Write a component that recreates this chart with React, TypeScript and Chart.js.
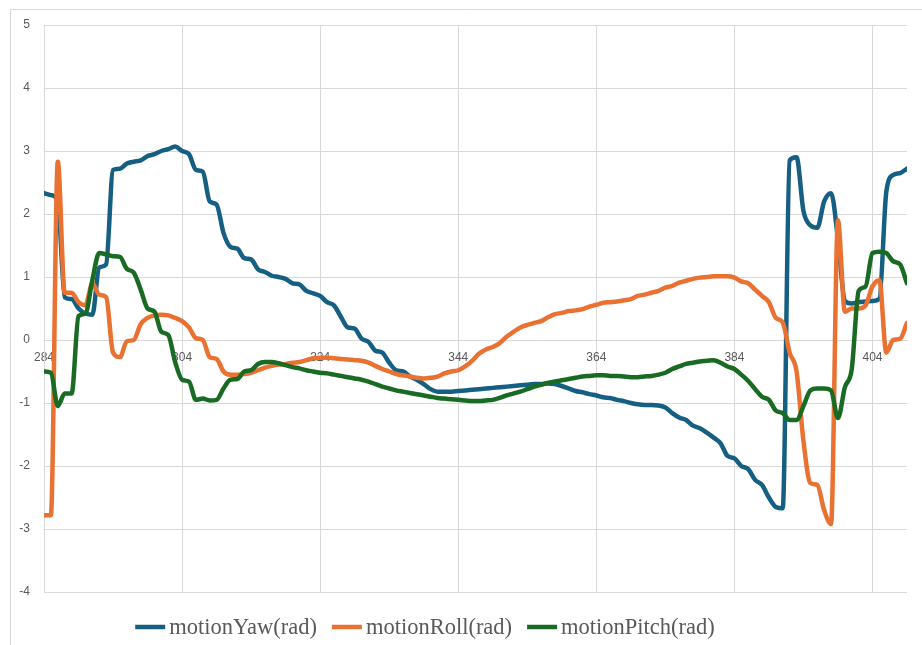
import React, { useEffect, useRef } from "react";
import { Chart, registerables } from "chart.js";

Chart.register(...registerables);

const xStart = 284;
const xEnd = 409;
const tickLabels = [284, 304, 324, 344, 364, 384, 404];
const seriesNames = ["motionYaw(rad)", "motionRoll(rad)", "motionPitch(rad)"];
const seriesColors = ["#156082", "#E97132", "#196B24"];

const motionYaw = [
  2.33, 2.3, 2.2, 0.68, 0.65, 0.5, 0.42, 0.4, 1.15, 1.2,
  2.7, 2.72, 2.8, 2.83, 2.85, 2.92, 2.95, 3.0, 3.03, 3.07,
  3.0, 2.95, 2.7, 2.67, 2.2, 2.15, 1.7, 1.48, 1.45, 1.3,
  1.28, 1.12, 1.08, 1.02, 1.0, 0.97, 0.9, 0.88, 0.78, 0.74,
  0.7, 0.6, 0.55, 0.37, 0.2, 0.18, 0.02, -0.03, -0.17, -0.2,
  -0.36, -0.48, -0.5, -0.58, -0.63, -0.7, -0.78, -0.82, -0.82, -0.82,
  -0.81, -0.8, -0.79, -0.78, -0.77, -0.76, -0.75, -0.74, -0.73, -0.72,
  -0.71, -0.7, -0.7, -0.69, -0.7, -0.73, -0.77, -0.81, -0.83, -0.86,
  -0.88, -0.91, -0.92, -0.95, -0.97, -1.0, -1.02, -1.03, -1.03, -1.04,
  -1.07, -1.16, -1.23, -1.27, -1.36, -1.4, -1.47, -1.55, -1.64, -1.84,
  -1.88, -2.0, -2.05, -2.22, -2.3, -2.5, -2.65, -2.67, 2.85, 2.9,
  2.05, 1.82, 1.78, 2.2, 2.33, 1.6, 0.62, 0.58, 0.6, 0.61,
  0.62, 0.65, 2.35, 2.62, 2.65, 2.72,
];

const motionRoll = [
  -2.78, -2.78, 2.83, 0.75, 0.75, 0.6, 0.55, 0.9, 0.72, 0.68,
  -0.2, -0.27, -0.02, 0.0, 0.25, 0.35, 0.39, 0.4, 0.39, 0.35,
  0.3, 0.2, 0.03, 0.0, -0.27, -0.3, -0.5, -0.55, -0.55, -0.54,
  -0.52, -0.48, -0.44, -0.41, -0.39, -0.38, -0.36, -0.35, -0.32, -0.29,
  -0.28, -0.28, -0.29, -0.3, -0.31, -0.32, -0.33, -0.36, -0.41, -0.46,
  -0.5, -0.54, -0.56, -0.58, -0.6, -0.61, -0.6, -0.58, -0.53, -0.5,
  -0.48, -0.42, -0.33, -0.22, -0.15, -0.11, -0.05, 0.05, 0.13, 0.2,
  0.24, 0.27, 0.3, 0.36, 0.41, 0.43, 0.46, 0.47, 0.49, 0.53,
  0.56, 0.59, 0.6, 0.61, 0.63, 0.65, 0.7, 0.72, 0.75, 0.78,
  0.83, 0.86, 0.91, 0.94, 0.97, 0.99, 1.0, 1.01, 1.01, 1.01,
  0.99, 0.93, 0.9, 0.8, 0.7, 0.6, 0.35, 0.28, -0.2, -0.5,
  -1.6, -2.27, -2.3, -2.7, -2.92, 1.9, 0.45, 0.5, 0.5, 0.55,
  0.85, 0.95, -0.2, 0.0, 0.02, 0.27,
];

const motionPitch = [
  -0.5, -0.52, -1.05, -0.85, -0.85, 0.38, 0.42, 0.95, 1.38, 1.36,
  1.33, 1.32, 1.13, 1.07, 0.8, 0.5, 0.45, 0.13, 0.08, -0.35,
  -0.63, -0.66, -0.95, -0.93, -0.96, -0.95, -0.77, -0.63, -0.62, -0.5,
  -0.48, -0.38, -0.35, -0.35, -0.37, -0.4, -0.43, -0.45, -0.48, -0.5,
  -0.52, -0.53, -0.55, -0.57, -0.59, -0.61, -0.63, -0.66, -0.7, -0.74,
  -0.77, -0.8, -0.82, -0.84, -0.86, -0.88, -0.9, -0.92, -0.93, -0.94,
  -0.95, -0.96, -0.97, -0.97, -0.96, -0.95, -0.92, -0.88, -0.85, -0.82,
  -0.78, -0.74, -0.71, -0.68, -0.66, -0.64, -0.62, -0.6, -0.58, -0.57,
  -0.56, -0.56, -0.57, -0.57, -0.58, -0.59, -0.59, -0.58, -0.57, -0.55,
  -0.52, -0.46, -0.42, -0.38, -0.36, -0.34, -0.33, -0.32, -0.36, -0.42,
  -0.46, -0.55, -0.65, -0.78, -0.9, -0.95, -1.12, -1.16, -1.27, -1.27,
  -1.05, -0.8, -0.77, -0.77, -0.8, -1.24, -0.75, -0.46, 0.78, 0.85,
  1.38, 1.4, 1.38, 1.25, 1.2, 0.9,
];

const seriesValues = [motionYaw, motionRoll, motionPitch];
const xPositions = motionYaw.map((_, i) => xStart + i);

const TEXT = "#595959";
const GRID = "#d9d9d9";

const framePlugin = {
  id: "frame",
  beforeDraw(chart: any) {
    const ctx = chart.ctx;
    ctx.save();
    ctx.fillStyle = "#ffffff";
    ctx.fillRect(0, 0, chart.width, chart.height);
    ctx.strokeStyle = GRID;
    ctx.lineWidth = 1;
    ctx.beginPath();
    ctx.moveTo(10.5, chart.height);
    ctx.lineTo(10.5, 9.5);
    ctx.lineTo(chart.width, 9.5);
    ctx.stroke();
    ctx.restore();
  },
};

const legendPlugin = {
  id: "customLegend",
  afterDraw(chart: any) {
    const ctx = chart.ctx;
    ctx.save();
    ctx.font = "22.5px 'Liberation Serif', 'Times New Roman', serif";
    const lineLen = 30;
    const gapText = 4;
    const gapItem = 15;
    const items = chart.data.datasets.map((d: any) => ({
      label: d.label,
      color: d.borderColor,
      w: ctx.measureText(d.label).width,
    }));
    let total = 0;
    items.forEach((it: any, i: number) => {
      total += lineLen + gapText + it.w + (i > 0 ? gapItem : 0);
    });
    let x = 425 - total / 2;
    const y = 627;
    items.forEach((it: any) => {
      ctx.strokeStyle = it.color;
      ctx.lineWidth = 4.5;
      ctx.lineCap = "butt";
      ctx.beginPath();
      ctx.moveTo(x, y);
      ctx.lineTo(x + lineLen, y);
      ctx.stroke();
      ctx.fillStyle = TEXT;
      ctx.textBaseline = "alphabetic";
      ctx.textAlign = "left";
      ctx.fillText(it.label, x + lineLen + gapText, y + 7);
      x += lineLen + gapText + it.w + gapItem;
    });
    ctx.restore();
  },
};

export default function App() {
  const canvasRef = useRef<HTMLCanvasElement | null>(null);

  useEffect(() => {
    if (!canvasRef.current) return;
    const datasets = seriesNames.map((name, s) => ({
      label: name,
      data: xPositions.map((x, i) => ({ x, y: seriesValues[s][i] })),
      borderColor: seriesColors[s],
      backgroundColor: seriesColors[s],
      borderWidth: 4.5,
      pointRadius: 0,
      cubicInterpolationMode: "monotone" as const,
      borderJoinStyle: "round" as const,
      borderCapStyle: "round" as const,
      order: 2 - s,
    }));
    const chart = new Chart(canvasRef.current, {
      type: "line",
      data: { datasets },
      options: {
        animation: false,
        responsive: false,
        maintainAspectRatio: false,
        layout: { padding: { left: 0, top: 25, right: 15, bottom: 53 } },
        plugins: {
          legend: { display: false },
          tooltip: { enabled: false },
        },
        scales: {
          x: {
            type: "linear",
            min: xStart,
            max: xEnd,
            position: { y: 0 } as any,
            afterBuildTicks: (scale: any) => {
              scale.ticks = tickLabels.map((v) => ({ value: v }));
            },
            ticks: {
              color: TEXT,
              font: { family: "'Liberation Sans', Arial, sans-serif", size: 12 },
              padding: 10,
              maxRotation: 0,
              autoSkip: false,
              callback: (v: any) => String(v),
            },
            grid: { color: GRID, lineWidth: 1, drawTicks: false },
            border: { display: true, color: GRID },
          },
          y: {
            type: "linear",
            min: -4,
            max: 5,
            ticks: {
              stepSize: 1,
              color: TEXT,
              font: { family: "'Liberation Sans', Arial, sans-serif", size: 12 },
              padding: 14,
            },
            grid: { color: GRID, lineWidth: 1, drawTicks: false },
            border: { display: true, color: GRID },
            afterFit: (scale: any) => {
              scale.width = 44;
            },
          },
        },
      },
      plugins: [framePlugin, legendPlugin],
    });
    return () => chart.destroy();
  }, []);

  return (
    <canvas
      ref={canvasRef}
      width={922}
      height={645}
      style={{ position: "absolute", left: 0, top: 0, width: 922, height: 645 }}
    />
  );
}
